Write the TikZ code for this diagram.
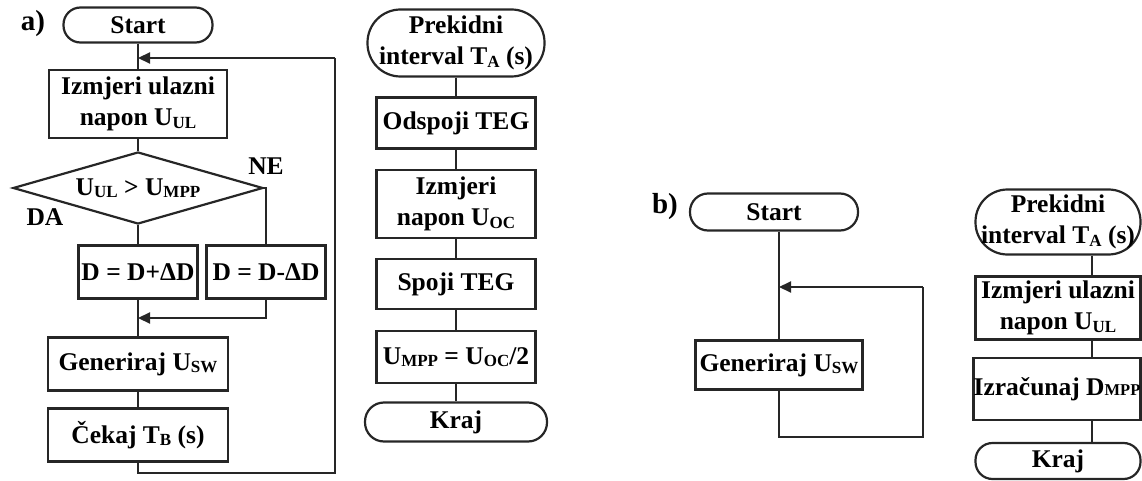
\documentclass[tikz,border=0pt]{standalone}
\usepackage{fontspec}
\setmainfont{Liberation Serif}
\usetikzlibrary{shapes.geometric,arrows.meta}
\newcommand{\fs}{\fontsize{25.5}{31}\selectfont\bfseries}
\newcommand{\sbx}[1]{\raisebox{-2.5pt}{\fontsize{17}{17}\selectfont #1}}
\newcommand{\scx}[1]{{\fontsize{16.5}{17}\selectfont #1}}
\tikzset{
  base/.style={draw=black!85, line width=2.2pt, inner sep=0pt, align=center, font=\fs},
  procbox/.style={base, rectangle},
  term/.style={base, rectangle, rounded corners=#1},
  decision/.style={base, diamond, aspect=3.4},
  conn/.style={line width=2.2pt, draw=black!85},
  arr/.style={conn, -{Triangle[length=12pt,width=11pt]}},
  lbl/.style={font=\fs, inner sep=0pt},
  panel/.style={font=\fontsize{29}{30}\selectfont\bfseries, inner sep=0pt}
}
\begin{document}
\begin{tikzpicture}[x=1pt,y=-1pt]
\useasboundingbox (0,0) rectangle (1142,481);
% ---------- a) left ----------
\node[panel] (la) at (33,24) {a)};
\node[term=17pt, minimum width=149pt, minimum height=35pt] (s1) at (138,25) {Start};
\node[procbox, minimum width=178pt, minimum height=68pt] (m1) at (138,104) {Izmjeri ulazni\\napon U\sbx{UL}};
\node[decision, minimum width=250pt, minimum height=72pt] (d1) at (138,188) {U\sbx{UL} > U\sbx{MPP}};
\node[procbox, minimum width=119pt, minimum height=53pt] (p1) at (138,272) {D = D+ΔD};
\node[procbox, minimum width=119pt, minimum height=53pt] (n1) at (266,272) {D = D-ΔD};
\node[procbox, minimum width=180pt, minimum height=53pt] (g1) at (138,364) {Generiraj U\sbx{SW}};
\node[procbox, minimum width=180pt, minimum height=53pt] (c1) at (138,435) {Čekaj T\sbx{B} (s)};
\node[lbl] (ne) at (266,166) {NE};
\node[lbl] (da) at (45,217) {DA};
\coordinate (j1) at (138,58);
\coordinate (j2) at (138,318);
\coordinate (lb1) at (138,473);
\coordinate (rb1) at (335,473);
\coordinate (rt1) at (335,58);
\draw[conn] (s1) -- (m1);
\draw[conn] (m1) -- (d1);
\draw[conn] (d1) -- (p1);
\draw[conn] (d1.east) -| (n1.north);
\draw[conn] (p1) -- (g1);
\draw[arr] (n1.south) |- (j2);
\draw[conn] (g1) -- (c1);
\draw[conn] (c1.south) -- (lb1) -- (rb1) -- (rt1);
\draw[arr] (rt1) -- (j1);
% ---------- a) right ----------
\node[term=33pt, minimum width=177pt, minimum height=67pt] (t2) at (456,43) {Prekidni\\interval T\sbx{A} (s)};
\node[procbox, minimum width=159pt, minimum height=51pt] (o2) at (456,123) {Odspoji TEG};
\node[procbox, minimum width=159pt, minimum height=68pt] (i2) at (456,204) {Izmjeri\\napon U\sbx{OC}};
\node[procbox, minimum width=159pt, minimum height=50pt] (sp2) at (456,284) {Spoji TEG};
\node[procbox, minimum width=159pt, minimum height=52pt] (u2) at (456,357) {U\sbx{MPP} = U\sbx{OC}/2};
\node[term=19pt, minimum width=182pt, minimum height=39pt] (k2) at (456,422) {Kraj};
\draw[conn] (t2) -- (o2);
\draw[conn] (o2) -- (i2);
\draw[conn] (i2) -- (sp2);
\draw[conn] (sp2) -- (u2);
\draw[conn] (u2) -- (k2);
% ---------- b) left ----------
\node[panel] (lb) at (665,207) {b)};
\node[term=18pt, minimum width=168pt, minimum height=37pt] (s3) at (774,212) {Start};
\node[procbox, minimum width=167pt, minimum height=49pt] (g3) at (779,365) {Generiraj U\sbx{SW}};
\coordinate (j3) at (779,287);
\coordinate (lb3) at (779,437);
\coordinate (rb3) at (923,437);
\coordinate (rt3) at (923,287);
\draw[conn] (s3.south -| g3.north) -- (g3.north);
\draw[conn] (g3.south) -- (lb3) -- (rb3) -- (rt3);
\draw[arr] (rt3) -- (j3);
% ---------- b) right ----------
\coordinate (cx) at (1092,0);
\node[term=32pt, minimum width=165pt, minimum height=65pt] (t4) at (1058,222) {Prekidni\\interval T\sbx{A} (s)};
\node[procbox, minimum width=165pt, minimum height=63pt] (i4) at (1058,308) {Izmjeri ulazni\\napon U\sbx{UL}};
\node[procbox, minimum width=167pt, minimum height=62pt] (z4) at (1057,389) {Izračunaj D\scx{MPP}};
\node[term=17pt, minimum width=165pt, minimum height=36pt] (k4) at (1058,461) {Kraj};
\draw[conn] (t4.south -| cx) -- (i4.north -| cx);
\draw[conn] (i4.south -| cx) -- (z4.north -| cx);
\draw[conn] (z4.south -| cx) -- (k4.north -| cx);
\end{tikzpicture}
\end{document}
